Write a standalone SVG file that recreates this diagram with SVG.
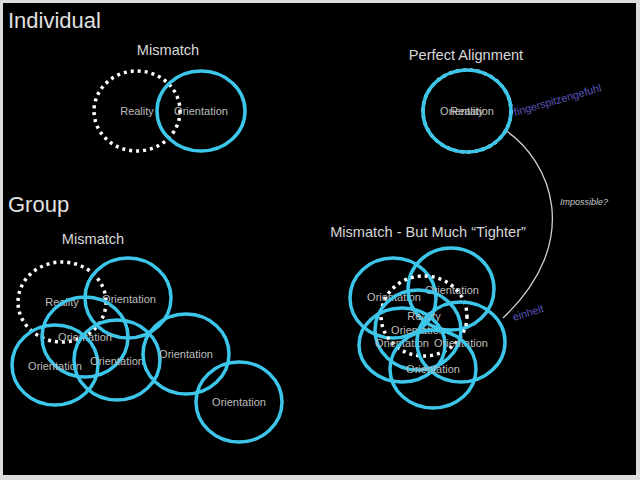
<svg xmlns="http://www.w3.org/2000/svg" width="640" height="480" viewBox="0 0 640 480">
<style>
text{font-family:"Liberation Sans",Arial,sans-serif}
.h1{font-size:22px;fill:#e0e0e0}
.h2{font-size:14.6px;fill:#d8d8d8;text-anchor:middle}
.lbl{font-size:11px;fill:#bdbdbd;text-anchor:middle}
.o{fill:none;stroke:#3cc6ea;stroke-width:3.5}
.r{fill:none;stroke:#ffffff;stroke-width:3.5;stroke-dasharray:3 4}
.note{font-size:10.8px;fill:#5a55b8}
.conn{fill:none;stroke:#d0d0d0;stroke-width:1.3}
</style>
<rect x="0" y="0" width="640" height="480" fill="#dcdcdc"/>
<rect x="3" y="3" width="633" height="472" fill="#000"/>
<text class="h1" x="8" y="28">Individual</text>
<text class="h1" x="8" y="212">Group</text>
<text class="h2" x="168" y="55">Mismatch</text>
<text class="h2" x="466" y="60">Perfect Alignment</text>
<text class="h2" x="93" y="244">Mismatch</text>
<text class="h2" x="428" y="237">Mismatch - But Much “Tighter”</text>

<g id="connectors">
<path class="conn" d="M505,130 C550,160 585,240 503,318"/>
<text x="560" y="205" style="font-size:9px;font-style:italic;fill:#c8c8c8">Impossible?</text>
<text class="note" transform="translate(515,116) rotate(-16)">fingerspitzengefuhl</text>
<text class="note" transform="translate(514,321) rotate(-17)">einheit</text>
</g>

<g id="ind-reality"><ellipse class="r" cx="137" cy="111" rx="43" ry="40"/><text class="lbl" x="137" y="115">Reality</text></g>
<g id="ind-orientation"><ellipse class="o" cx="201" cy="111" rx="44" ry="40"/><text class="lbl" x="201" y="115">Orientation</text></g>

<g id="pa-reality"><ellipse class="r" cx="467" cy="111" rx="44" ry="41"/><text class="lbl" x="467" y="115">Reality</text></g>
<g id="pa-orientation"><ellipse class="o" cx="467" cy="111" rx="44" ry="41"/><text class="lbl" x="467" y="115">Orientation</text></g>

<g id="g-reality"><ellipse class="r" cx="62" cy="302" rx="44" ry="40"/><text class="lbl" x="62" y="306">Reality</text></g>
<g id="g-o1"><ellipse class="o" cx="128" cy="298" rx="43" ry="40"/><text class="lbl" x="129" y="303">Orientation</text></g>
<g id="g-o2"><ellipse class="o" cx="85" cy="337" rx="43" ry="40"/><text class="lbl" x="85" y="341">Orientation</text></g>
<g id="g-o3"><ellipse class="o" cx="55" cy="365" rx="43" ry="40"/><text class="lbl" x="55" y="370">Orientation</text></g>
<g id="g-o4"><ellipse class="o" cx="117" cy="360" rx="43" ry="40"/><text class="lbl" x="117" y="365">Orientation</text></g>
<g id="g-o5"><ellipse class="o" cx="186" cy="354" rx="43" ry="40"/><text class="lbl" x="186" y="358">Orientation</text></g>
<g id="g-o6"><ellipse class="o" cx="239" cy="402" rx="43" ry="40"/><text class="lbl" x="239" y="406">Orientation</text></g>

<g id="t-oA"><ellipse class="o" cx="393" cy="298" rx="43" ry="40"/><text class="lbl" x="394" y="301">Orientation</text></g>
<g id="t-oB"><ellipse class="o" cx="451" cy="289" rx="43" ry="41"/><text class="lbl" x="452" y="294">Orientation</text></g>
<g id="t-reality"><ellipse class="r" cx="424" cy="316" rx="43" ry="40"/><text class="lbl" x="424" y="320">Reality</text></g>
<g id="t-oC"><ellipse class="o" cx="418" cy="330" rx="43" ry="40"/><text class="lbl" x="418" y="334">Orientation</text></g>
<g id="t-oD"><ellipse class="o" cx="402" cy="345" rx="43" ry="37"/><text class="lbl" x="402" y="347">Orientation</text></g>
<g id="t-oE"><ellipse class="o" cx="461" cy="342" rx="44" ry="40"/><text class="lbl" x="461" y="347">Orientation</text></g>
<g id="t-oF"><ellipse class="o" cx="433" cy="369" rx="43" ry="39"/><text class="lbl" x="433" y="373">Orientation</text></g>
</svg>
